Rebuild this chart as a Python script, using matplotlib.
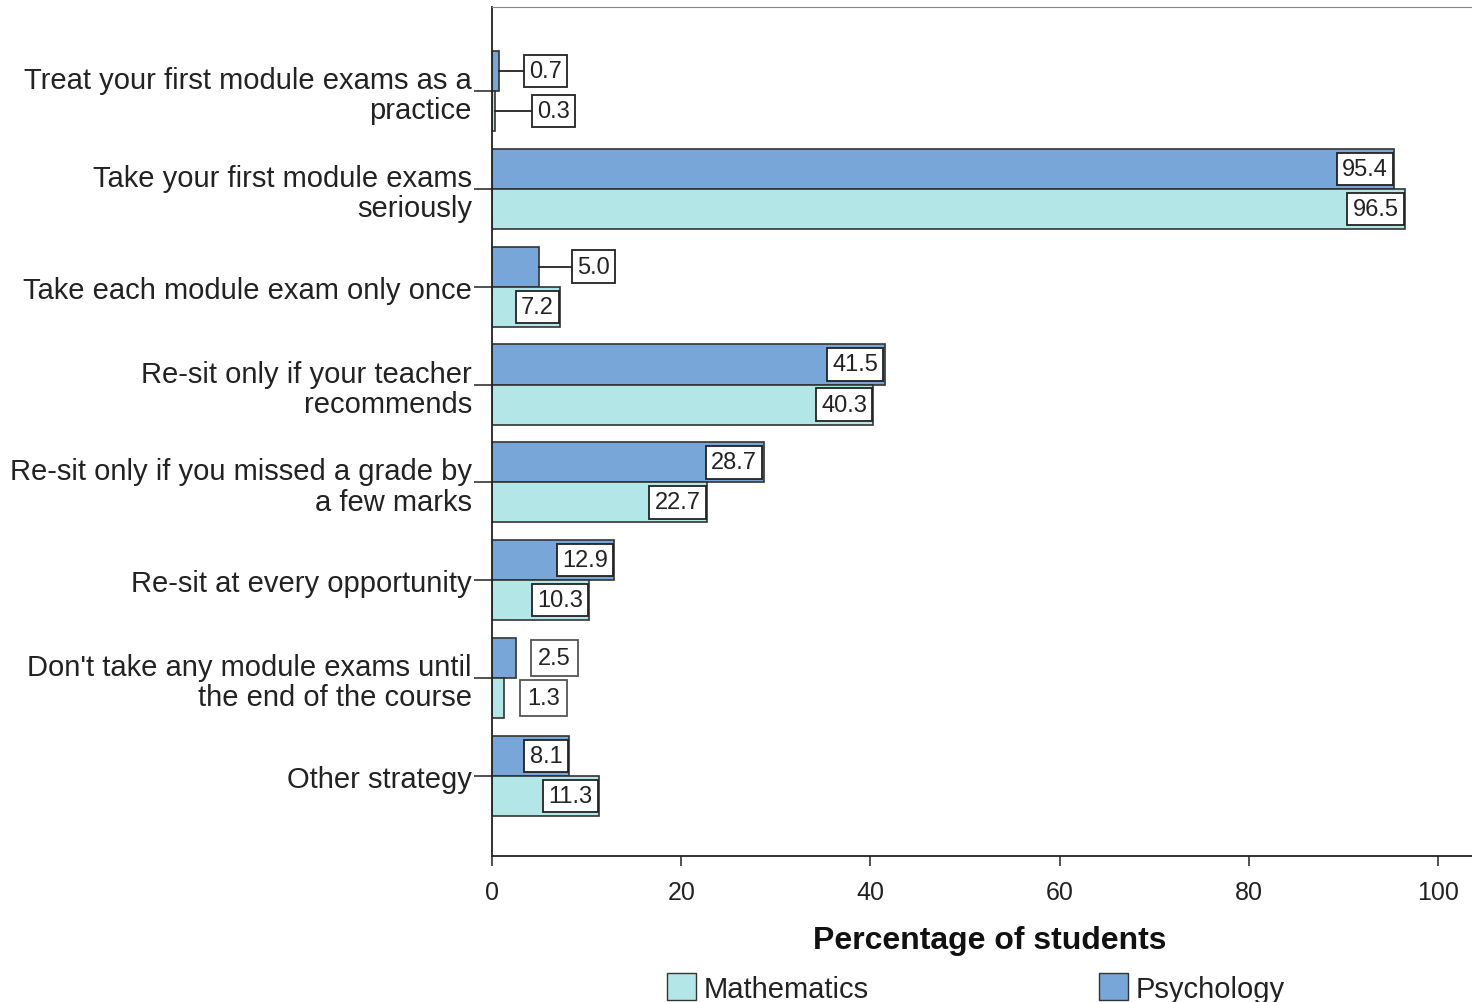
import matplotlib
matplotlib.use("Agg")
import matplotlib.pyplot as plt
from matplotlib.patches import Patch
from matplotlib import font_manager

categories = [
    "Treat your first module exams as a\npractice",
    "Take your first module exams\nseriously",
    "Take each module exam only once",
    "Re-sit only if your teacher\nrecommends",
    "Re-sit only if you missed a grade by\na few marks",
    "Re-sit at every opportunity",
    "Don't take any module exams until\nthe end of the course",
    "Other strategy",
]
psychology = [0.7, 95.4, 5.0, 41.5, 28.7, 12.9, 2.5, 8.1]
mathematics = [0.3, 96.5, 7.2, 40.3, 22.7, 10.3, 1.3, 11.3]
xticks = [0, 20, 40, 60, 80, 100]

names = {f.name for f in font_manager.fontManager.ttflist}
MAIN = "Liberation Sans" if "Liberation Sans" in names else "DejaVu Sans"
NARROW = "Liberation Sans Narrow" if "Liberation Sans Narrow" in names else MAIN
plt.rcParams['font.family'] = [MAIN, 'DejaVu Sans']

FS = 21         # category labels / legend
VFS = 22 if NARROW != MAIN else 17   # value labels
TFS = 21 if NARROW != MAIN else 18   # tick numbers
TXT = "#222222"

fig = plt.figure(figsize=(14.72, 10.03), dpi=100)
ax = fig.add_axes([492/1472, 1-857/1003, 1-492/1472, (857-8)/1003])

psy_col = "#78A6D8"
math_col = "#B3E6E6"
edge = "#333333"
h = 0.41
ys = list(range(len(categories)))

ax.barh([y - h/2 for y in ys], psychology, height=h, color=psy_col, edgecolor=edge, linewidth=1.2)
ax.barh([y + h/2 for y in ys], mathematics, height=h, color=math_col, edgecolor=edge, linewidth=1.2)

PAD = 0.22

def place(val, y):
    txt = f"{val:.1f}"
    if val >= 7:
        ax.annotate(txt, (val, y), xytext=(-PAD * VFS - 0.8, 0), textcoords="offset points",
                    ha="right", va="center", fontsize=VFS, family=[NARROW, 'DejaVu Sans'],
                    color=TXT,
                    bbox=dict(boxstyle=f"square,pad={PAD}", fc="white", ec="#222222", lw=1.3),
                    zorder=5)
        return
    if val < 1:
        gap, leader, ec, pad = (3.2 if val > 0.5 else 4.5), True, "#222222", PAD
    elif val < 4:
        gap, leader, ec, pad = 2.4, False, "#555555", 0.3
    else:
        gap, leader, ec, pad = 4.0, True, "#222222", PAD
    x = val + gap
    if leader:
        ax.plot([val, x], [y, y], color="#222222", lw=1.3, zorder=4)
    ax.text(x, y, txt, ha="left", va="center", fontsize=VFS, family=[NARROW, 'DejaVu Sans'],
            color=TXT,
            bbox=dict(boxstyle=f"square,pad={pad}", fc="white", ec=ec, lw=1.3), zorder=5)

for y, pv, mv in zip(ys, psychology, mathematics):
    place(pv, y - h/2)
    place(mv, y + h/2)

ax.set_xlim(0, (1472-492)/9.46)
ax.set_ylim(len(categories) - 1 + 0.82, -0.86)
ax.set_xticks(xticks)
ax.set_xticklabels([str(t) for t in xticks], fontsize=TFS, family=[NARROW, 'DejaVu Sans'],
                   color=TXT)
ax.set_yticks(ys)
ax.set_yticklabels(categories, fontsize=FS, linespacing=1.1, color=TXT)
ax.tick_params(axis="y", length=13, width=1.2, color="#333333", pad=1.5)
ax.tick_params(axis="x", length=7.5, width=1.2, color="#333333", pad=10)
ax.spines["right"].set_visible(False)
ax.spines["top"].set_color("#888888")
ax.spines["left"].set_color("#222222")
ax.spines["bottom"].set_color("#222222")
ax.spines["left"].set_linewidth(1.3)
ax.spines["bottom"].set_linewidth(1.3)
ax.set_xlabel("Percentage of students", fontsize=23, fontweight="bold", labelpad=15,
              color="#111111")
ax.xaxis.label.set_x((990-492)/(1472-492))

handles = [Patch(facecolor=math_col, edgecolor=edge, label="Mathematics"),
           Patch(facecolor=psy_col, edgecolor=edge, label="Psychology")]
leg = fig.legend(handles=handles, ncol=2, loc="center", bbox_to_anchor=(976/1472, 1-989/1003),
                 frameon=False, fontsize=FS, handlelength=1.0, handleheight=1.0,
                 handletextpad=0.25, columnspacing=7.9, borderpad=0, borderaxespad=0)
for t in leg.get_texts():
    t.set_color(TXT)

fig.savefig("out.png", dpi=100)
